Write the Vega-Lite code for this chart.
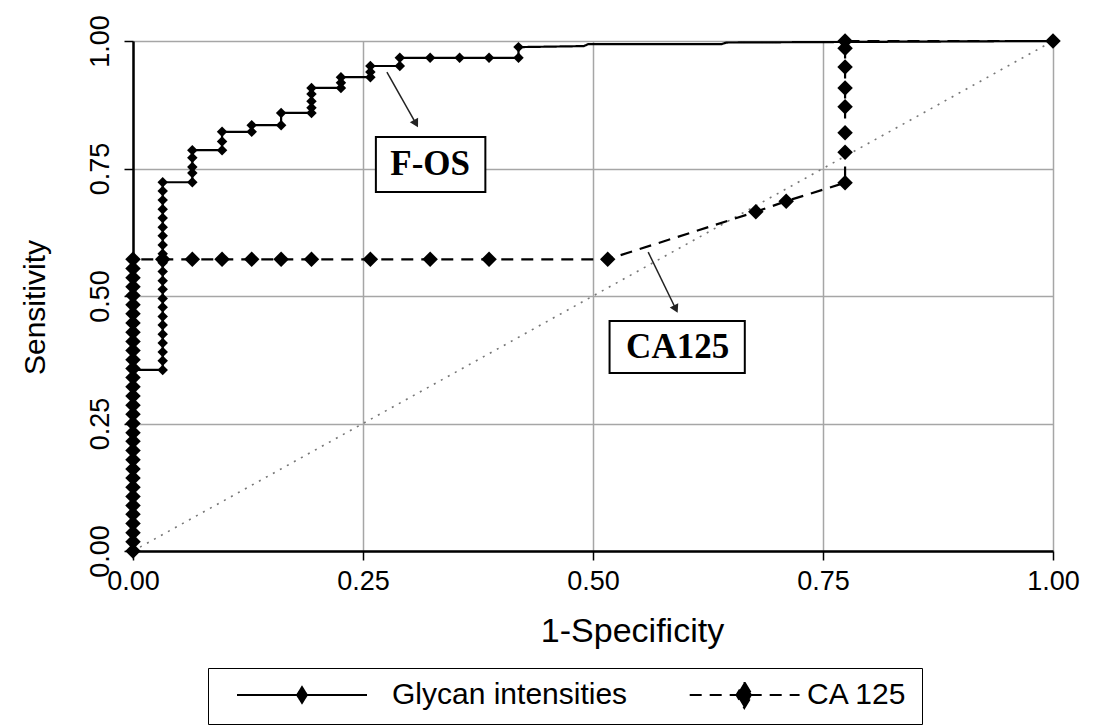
{
  "$schema": "https://vega.github.io/schema/vega-lite/v6.json",
  "width": 920,
  "height": 510,
  "autosize": {"type": "none"},
  "padding": {"left": 133, "top": 41, "right": 40, "bottom": 176},
  "background": "white",
  "config": {
    "view": {"stroke": null},
    "axis": {
      "domainColor": "#000", "domainWidth": 2.5,
      "tickColor": "#000", "tickSize": 9, "tickWidth": 1.5,
      "gridColor": "#a6a6a6", "gridWidth": 1.5,
      "labelFont": "Liberation Sans", "labelFontSize": 27, "labelColor": "#000",
      "titleFont": "Liberation Sans", "titleFontSize": 30, "titleFontWeight": "normal", "titleColor": "#000"
    }
  },
  "datasets": {
    "diag": [{"x": 0, "y": 0}, {"x": 1, "y": 1}],
    "annot": [
      {"label": "F-OS", "tx": 0.323, "ty": 0.758, "bx1": 0.264, "bx2": 0.383, "by1": 0.704, "by2": 0.812, "ax": 0.276, "ay": 0.939, "ax2": 0.3076, "ay2": 0.838},
      {"label": "CA125", "tx": 0.592, "ty": 0.400, "bx1": 0.518, "bx2": 0.665, "by1": 0.349, "by2": 0.451, "ax": 0.56, "ay": 0.586, "ax2": 0.590, "ay2": 0.4745}
    ],
    "roc": [
      {"series": "Glycan intensities", "i": 0, "x": 0, "y": 0},
      {"series": "Glycan intensities", "i": 1, "x": 0, "y": 0.018},
      {"series": "Glycan intensities", "i": 2, "x": 0, "y": 0.036},
      {"series": "Glycan intensities", "i": 3, "x": 0, "y": 0.053},
      {"series": "Glycan intensities", "i": 4, "x": 0, "y": 0.071},
      {"series": "Glycan intensities", "i": 5, "x": 0, "y": 0.089},
      {"series": "Glycan intensities", "i": 6, "x": 0, "y": 0.107},
      {"series": "Glycan intensities", "i": 7, "x": 0, "y": 0.124},
      {"series": "Glycan intensities", "i": 8, "x": 0, "y": 0.142},
      {"series": "Glycan intensities", "i": 9, "x": 0, "y": 0.16},
      {"series": "Glycan intensities", "i": 10, "x": 0, "y": 0.178},
      {"series": "Glycan intensities", "i": 11, "x": 0, "y": 0.195},
      {"series": "Glycan intensities", "i": 12, "x": 0, "y": 0.213},
      {"series": "Glycan intensities", "i": 13, "x": 0, "y": 0.231},
      {"series": "Glycan intensities", "i": 14, "x": 0, "y": 0.249},
      {"series": "Glycan intensities", "i": 15, "x": 0, "y": 0.266},
      {"series": "Glycan intensities", "i": 16, "x": 0, "y": 0.284},
      {"series": "Glycan intensities", "i": 17, "x": 0, "y": 0.302},
      {"series": "Glycan intensities", "i": 18, "x": 0, "y": 0.32},
      {"series": "Glycan intensities", "i": 19, "x": 0, "y": 0.337},
      {"series": "Glycan intensities", "i": 20, "x": 0, "y": 0.355},
      {"series": "Glycan intensities", "i": 21, "x": 0.0323, "y": 0.355},
      {"series": "Glycan intensities", "i": 22, "x": 0.0323, "y": 0.373},
      {"series": "Glycan intensities", "i": 23, "x": 0.0323, "y": 0.39},
      {"series": "Glycan intensities", "i": 24, "x": 0.0323, "y": 0.408},
      {"series": "Glycan intensities", "i": 25, "x": 0.0323, "y": 0.425},
      {"series": "Glycan intensities", "i": 26, "x": 0.0323, "y": 0.443},
      {"series": "Glycan intensities", "i": 27, "x": 0.0323, "y": 0.46},
      {"series": "Glycan intensities", "i": 28, "x": 0.0323, "y": 0.478},
      {"series": "Glycan intensities", "i": 29, "x": 0.0323, "y": 0.495},
      {"series": "Glycan intensities", "i": 30, "x": 0.0323, "y": 0.513},
      {"series": "Glycan intensities", "i": 31, "x": 0.0323, "y": 0.53},
      {"series": "Glycan intensities", "i": 32, "x": 0.0323, "y": 0.548},
      {"series": "Glycan intensities", "i": 33, "x": 0.0323, "y": 0.565},
      {"series": "Glycan intensities", "i": 34, "x": 0.0323, "y": 0.583},
      {"series": "Glycan intensities", "i": 35, "x": 0.0323, "y": 0.6},
      {"series": "Glycan intensities", "i": 36, "x": 0.0323, "y": 0.618},
      {"series": "Glycan intensities", "i": 37, "x": 0.0323, "y": 0.635},
      {"series": "Glycan intensities", "i": 38, "x": 0.0323, "y": 0.653},
      {"series": "Glycan intensities", "i": 39, "x": 0.0323, "y": 0.67},
      {"series": "Glycan intensities", "i": 40, "x": 0.0323, "y": 0.688},
      {"series": "Glycan intensities", "i": 41, "x": 0.0323, "y": 0.706},
      {"series": "Glycan intensities", "i": 42, "x": 0.0323, "y": 0.723},
      {"series": "Glycan intensities", "i": 43, "x": 0.0645, "y": 0.723},
      {"series": "Glycan intensities", "i": 44, "x": 0.0645, "y": 0.741},
      {"series": "Glycan intensities", "i": 45, "x": 0.0645, "y": 0.753},
      {"series": "Glycan intensities", "i": 46, "x": 0.0645, "y": 0.771},
      {"series": "Glycan intensities", "i": 47, "x": 0.0645, "y": 0.786},
      {"series": "Glycan intensities", "i": 48, "x": 0.0968, "y": 0.786},
      {"series": "Glycan intensities", "i": 49, "x": 0.0968, "y": 0.803},
      {"series": "Glycan intensities", "i": 50, "x": 0.0968, "y": 0.822},
      {"series": "Glycan intensities", "i": 51, "x": 0.129, "y": 0.822},
      {"series": "Glycan intensities", "i": 52, "x": 0.129, "y": 0.835},
      {"series": "Glycan intensities", "i": 53, "x": 0.161, "y": 0.835},
      {"series": "Glycan intensities", "i": 54, "x": 0.161, "y": 0.859},
      {"series": "Glycan intensities", "i": 55, "x": 0.194, "y": 0.859},
      {"series": "Glycan intensities", "i": 56, "x": 0.194, "y": 0.869},
      {"series": "Glycan intensities", "i": 57, "x": 0.194, "y": 0.882},
      {"series": "Glycan intensities", "i": 58, "x": 0.194, "y": 0.896},
      {"series": "Glycan intensities", "i": 59, "x": 0.194, "y": 0.908},
      {"series": "Glycan intensities", "i": 60, "x": 0.226, "y": 0.908},
      {"series": "Glycan intensities", "i": 61, "x": 0.226, "y": 0.918},
      {"series": "Glycan intensities", "i": 62, "x": 0.226, "y": 0.929},
      {"series": "Glycan intensities", "i": 63, "x": 0.258, "y": 0.929},
      {"series": "Glycan intensities", "i": 64, "x": 0.258, "y": 0.939},
      {"series": "Glycan intensities", "i": 65, "x": 0.258, "y": 0.951},
      {"series": "Glycan intensities", "i": 66, "x": 0.29, "y": 0.951},
      {"series": "Glycan intensities", "i": 67, "x": 0.29, "y": 0.967},
      {"series": "Glycan intensities", "i": 68, "x": 0.323, "y": 0.967},
      {"series": "Glycan intensities", "i": 69, "x": 0.355, "y": 0.967},
      {"series": "Glycan intensities", "i": 70, "x": 0.387, "y": 0.967},
      {"series": "Glycan intensities", "i": 71, "x": 0.419, "y": 0.967},
      {"series": "Glycan intensities", "i": 72, "x": 0.419, "y": 0.988},
      {"series": "Glycan intensities", "i": 73, "x": 0.49, "y": 0.99, "mk": false},
      {"series": "Glycan intensities", "i": 74, "x": 0.495, "y": 0.994, "mk": false},
      {"series": "Glycan intensities", "i": 75, "x": 0.64, "y": 0.994, "mk": false},
      {"series": "Glycan intensities", "i": 76, "x": 0.645, "y": 0.997, "mk": false},
      {"series": "Glycan intensities", "i": 77, "x": 1, "y": 1},
      {"series": "CA 125", "i": 100, "x": 0, "y": 0},
      {"series": "CA 125", "i": 101, "x": 0, "y": 0.018},
      {"series": "CA 125", "i": 102, "x": 0, "y": 0.036},
      {"series": "CA 125", "i": 103, "x": 0, "y": 0.054},
      {"series": "CA 125", "i": 104, "x": 0, "y": 0.072},
      {"series": "CA 125", "i": 105, "x": 0, "y": 0.089},
      {"series": "CA 125", "i": 106, "x": 0, "y": 0.107},
      {"series": "CA 125", "i": 107, "x": 0, "y": 0.125},
      {"series": "CA 125", "i": 108, "x": 0, "y": 0.143},
      {"series": "CA 125", "i": 109, "x": 0, "y": 0.161},
      {"series": "CA 125", "i": 110, "x": 0, "y": 0.179},
      {"series": "CA 125", "i": 111, "x": 0, "y": 0.197},
      {"series": "CA 125", "i": 112, "x": 0, "y": 0.215},
      {"series": "CA 125", "i": 113, "x": 0, "y": 0.232},
      {"series": "CA 125", "i": 114, "x": 0, "y": 0.25},
      {"series": "CA 125", "i": 115, "x": 0, "y": 0.268},
      {"series": "CA 125", "i": 116, "x": 0, "y": 0.286},
      {"series": "CA 125", "i": 117, "x": 0, "y": 0.304},
      {"series": "CA 125", "i": 118, "x": 0, "y": 0.322},
      {"series": "CA 125", "i": 119, "x": 0, "y": 0.34},
      {"series": "CA 125", "i": 120, "x": 0, "y": 0.358},
      {"series": "CA 125", "i": 121, "x": 0, "y": 0.375},
      {"series": "CA 125", "i": 122, "x": 0, "y": 0.393},
      {"series": "CA 125", "i": 123, "x": 0, "y": 0.411},
      {"series": "CA 125", "i": 124, "x": 0, "y": 0.429},
      {"series": "CA 125", "i": 125, "x": 0, "y": 0.447},
      {"series": "CA 125", "i": 126, "x": 0, "y": 0.465},
      {"series": "CA 125", "i": 127, "x": 0, "y": 0.483},
      {"series": "CA 125", "i": 128, "x": 0, "y": 0.501},
      {"series": "CA 125", "i": 129, "x": 0, "y": 0.518},
      {"series": "CA 125", "i": 130, "x": 0, "y": 0.536},
      {"series": "CA 125", "i": 131, "x": 0, "y": 0.554},
      {"series": "CA 125", "i": 132, "x": 0, "y": 0.572},
      {"series": "CA 125", "i": 133, "x": 0.0323, "y": 0.572},
      {"series": "CA 125", "i": 134, "x": 0.0645, "y": 0.572},
      {"series": "CA 125", "i": 135, "x": 0.0968, "y": 0.572},
      {"series": "CA 125", "i": 136, "x": 0.129, "y": 0.572},
      {"series": "CA 125", "i": 137, "x": 0.161, "y": 0.572},
      {"series": "CA 125", "i": 138, "x": 0.194, "y": 0.572},
      {"series": "CA 125", "i": 139, "x": 0.258, "y": 0.572},
      {"series": "CA 125", "i": 140, "x": 0.323, "y": 0.572},
      {"series": "CA 125", "i": 141, "x": 0.387, "y": 0.572},
      {"series": "CA 125", "i": 142, "x": 0.516, "y": 0.572},
      {"series": "CA 125", "i": 143, "x": 0.677, "y": 0.665},
      {"series": "CA 125", "i": 144, "x": 0.71, "y": 0.686},
      {"series": "CA 125", "i": 145, "x": 0.774, "y": 0.722},
      {"series": "CA 125", "i": 146, "x": 0.774, "y": 0.782},
      {"series": "CA 125", "i": 147, "x": 0.774, "y": 0.82},
      {"series": "CA 125", "i": 148, "x": 0.774, "y": 0.871},
      {"series": "CA 125", "i": 149, "x": 0.774, "y": 0.908},
      {"series": "CA 125", "i": 150, "x": 0.774, "y": 0.949},
      {"series": "CA 125", "i": 151, "x": 0.774, "y": 0.986},
      {"series": "CA 125", "i": 152, "x": 0.774, "y": 1.0},
      {"series": "CA 125", "i": 153, "x": 1, "y": 1}
    ]
  },
  "layer": [
    {
      "data": {"name": "diag"},
      "mark": {"type": "line", "color": "#777", "strokeWidth": 1.6, "strokeDash": [2, 6]},
      "encoding": {
        "x": {
          "field": "x", "type": "quantitative",
          "scale": {"domain": [0, 1], "nice": false},
          "axis": {"values": [0, 0.25, 0.5, 0.75, 1], "format": ".2f", "title": "1-Specificity", "titleFontSize": 34, "labelPadding": 8, "titlePadding": 20, "titleX": 499, "labelFlush": false}
        },
        "y": {
          "field": "y", "type": "quantitative",
          "scale": {"domain": [0, 1], "nice": false},
          "axis": {"values": [0, 0.25, 0.5, 0.75, 1], "format": ".2f", "title": "Sensitivity", "labelAngle": -90, "labelAlign": "center", "labelBaseline": "bottom", "labelPadding": 10, "titlePadding": 36, "titleY": 266, "labelFlush": false}
        }
      }
    },
    {
      "data": {"name": "roc"},
      "mark": {"type": "line", "color": "#000", "strokeWidth": 2.2},
      "encoding": {
        "x": {"field": "x", "type": "quantitative"},
        "y": {"field": "y", "type": "quantitative"},
        "order": {"field": "i", "type": "quantitative"},
        "strokeDash": {
          "field": "series", "type": "nominal",
          "scale": {"domain": ["Glycan intensities", "CA 125"], "range": [[1, 0], [12, 8]]},
          "legend": {
            "orient": "none", "legendX": 75, "legendY": 627, "direction": "horizontal", "title": null,
            "strokeColor": "#000", "padding": 14, "clipHeight": 26,
            "symbolType": "M-1,0L1,0", "symbolSize": 16900, "symbolStrokeWidth": 2, "symbolStrokeColor": "#000", "symbolOffset": 14,
            "labelFont": "Liberation Sans", "labelFontSize": 30, "labelColor": "#000", "labelOffset": 24, "labelLimit": 400,
            "columnPadding": 9,
            "encode": {
              "symbols": {
                "update": {
                  "shape": {"signal": "datum.value === 'CA 125' ? 'M-0.42,0L1.27,0M0.42,-0.2L0.54,0L0.42,0.2L0.3,0Z' : 'M-1,0L1,0M0,-0.12L0.075,0L0,0.12L-0.075,0Z'"},
                  "fill": {"value": "#000"},
                  "stroke": {"value": "#000"},
                  "strokeWidth": {"value": 2},
                  "strokeOpacity": {"value": 1}
                }
              }
            }
          }
        }
      }
    },
    {
      "data": {"name": "roc"},
      "transform": [{"filter": "datum.series === 'Glycan intensities' && datum.mk !== false"}],
      "mark": {"type": "point", "shape": "diamond", "filled": true, "color": "#000", "size": 110, "opacity": 1},
      "encoding": {
        "x": {"field": "x", "type": "quantitative"},
        "y": {"field": "y", "type": "quantitative"}
      }
    },
    {
      "data": {"name": "roc"},
      "transform": [{"filter": "datum.series === 'CA 125'"}],
      "mark": {"type": "point", "shape": "diamond", "filled": true, "color": "#000", "size": 240, "opacity": 1},
      "encoding": {
        "x": {"field": "x", "type": "quantitative"},
        "y": {"field": "y", "type": "quantitative"}
      }
    },
    {
      "data": {"name": "annot"},
      "mark": {"type": "rule", "color": "#222", "strokeWidth": 1.5},
      "encoding": {
        "x": {"field": "ax", "type": "quantitative"},
        "y": {"field": "ay", "type": "quantitative"},
        "x2": {"field": "ax2"},
        "y2": {"field": "ay2"}
      }
    },
    {
      "data": {"name": "annot"},
      "transform": [{"filter": "datum.label === 'F-OS'"}],
      "mark": {"type": "point", "shape": "triangle-down", "filled": true, "color": "#222", "size": 90, "angle": 330.6, "opacity": 1},
      "encoding": {
        "x": {"field": "ax2", "type": "quantitative"},
        "y": {"field": "ay2", "type": "quantitative"}
      }
    },
    {
      "data": {"name": "annot"},
      "transform": [{"filter": "datum.label === 'CA125'"}],
      "mark": {"type": "point", "shape": "triangle-down", "filled": true, "color": "#222", "size": 90, "angle": 333.8, "opacity": 1},
      "encoding": {
        "x": {"field": "ax2", "type": "quantitative"},
        "y": {"field": "ay2", "type": "quantitative"}
      }
    },
    {
      "data": {"name": "annot"},
      "mark": {"type": "rect", "fill": "white", "stroke": "#000", "strokeWidth": 2},
      "encoding": {
        "x": {"field": "bx1", "type": "quantitative"},
        "x2": {"field": "bx2"},
        "y": {"field": "by1", "type": "quantitative"},
        "y2": {"field": "by2"}
      }
    },
    {
      "data": {"name": "annot"},
      "mark": {"type": "text", "font": "Liberation Serif", "fontWeight": "bold", "fontSize": 35, "color": "#000", "align": "center", "baseline": "middle"},
      "encoding": {
        "x": {"field": "tx", "type": "quantitative"},
        "y": {"field": "ty", "type": "quantitative"},
        "text": {"field": "label"}
      }
    }
  ]
}
